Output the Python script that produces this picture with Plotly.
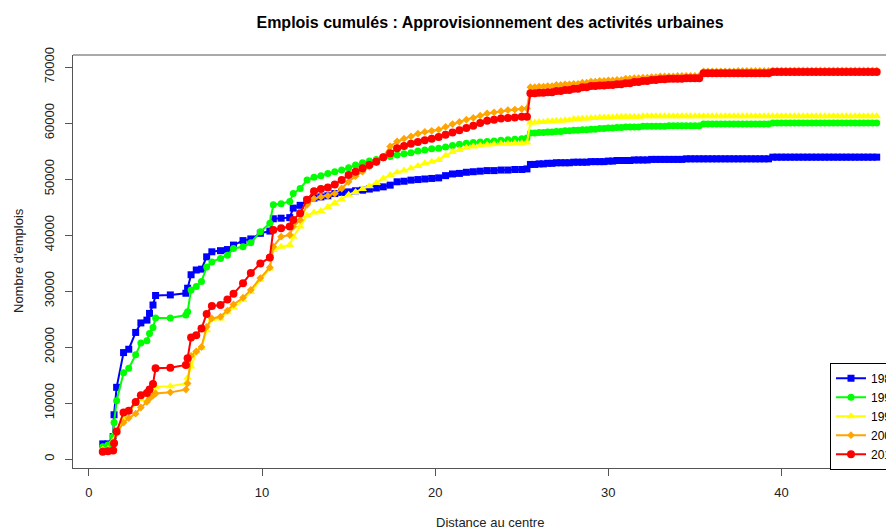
import plotly.graph_objects as go

# Distance au centre (km)
distance = [
    0.8, 1.1, 1.4, 1.45, 1.6, 2.0, 2.3, 2.7, 3.0, 3.35,
    3.5, 3.7, 3.85, 4.7, 5.6, 5.7, 5.9, 6.2, 6.5, 6.8,
    7.1, 7.6, 8.0, 8.35, 8.9, 9.35, 9.9, 10.45, 10.65, 11.1,
    11.6, 11.8,
    12.2, 12.6, 13.0, 13.4, 13.8, 14.2, 14.6, 15.0, 15.4, 15.8,
    16.2, 16.6, 17.0, 17.4, 17.8, 18.2, 18.6, 19.0, 19.4, 19.8,
    20.2, 20.6, 21.0, 21.4, 21.8, 22.2, 22.6, 23.0, 23.4, 23.8,
    24.2, 24.6, 25.0, 25.3,
    25.5, 25.75, 26.0, 26.25, 26.5, 26.75, 27.0, 27.25,
    27.5, 27.75, 28.0, 28.25, 28.5, 28.75, 29.0, 29.25,
    29.5, 29.75, 30.0, 30.25, 30.5, 30.75, 31.0, 31.25,
    31.5, 31.75, 32.0, 32.25, 32.5, 32.75, 33.0, 33.25,
    33.5, 33.75, 34.0, 34.25, 34.5, 34.75, 35.0, 35.25,
    35.5, 35.75, 36.0, 36.25, 36.5, 36.75, 37.0, 37.25,
    37.5, 37.75, 38.0, 38.25, 38.5, 38.75, 39.0, 39.25,
    39.5, 39.75, 40.0, 40.25, 40.5, 40.75, 41.0, 41.25,
    41.5, 41.75, 42.0, 42.25, 42.5, 42.75, 43.0, 43.25,
    43.5, 43.75, 44.0, 44.25, 44.5, 44.75, 45.0, 45.25,
    45.5,
]

emplois_1982 = [
    2700, 2700, 4000, 7900, 12800, 19000, 19600, 22600, 24300, 24800,
    26000, 27500, 29200, 29300, 29600, 30500, 32900, 33750, 33900, 36100,
    37000, 37200, 37400, 38200, 39000, 39300, 40300, 40700, 42900, 43000,
    43100, 44800,
    45300, 46200, 46600, 46800, 47000, 47400, 47600, 47700, 47900, 48000,
    48200, 48400, 48600, 48900, 49500, 49600, 49800, 49900, 50000, 50100,
    50200, 50600, 50900, 51000, 51200, 51300, 51400, 51500, 51500, 51600,
    51600, 51700, 51700, 51800,
    52600, 52600, 52700, 52700, 52800, 52800, 52900, 52900,
    52900, 52900, 53000, 53000, 53000, 53000, 53100, 53100,
    53100, 53100, 53200, 53200, 53300, 53300, 53300, 53300,
    53400, 53400, 53400, 53400, 53500, 53500, 53500, 53500,
    53500, 53500, 53500, 53500, 53600, 53600, 53600, 53600,
    53600, 53600, 53600, 53600, 53600, 53600, 53600, 53600,
    53600, 53600, 53600, 53600, 53600, 53600, 53600, 53600,
    53900, 53900, 53900, 53900, 53900, 53900, 53900, 53900,
    53900, 53900, 53900, 53900, 53900, 53900, 53900, 53900,
    53900, 53900, 53900, 53900, 53900, 53900, 53900, 53900,
    53900,
]

emplois_1990 = [
    2200, 2500, 4000, 6500, 10400, 15400, 16200, 18600, 20700, 21100,
    22400, 23500, 25200, 25200, 25700, 26300, 30200, 30800, 31700, 34300,
    35200, 35800, 36400, 37600, 37900, 38600, 40600, 42100, 45400, 45600,
    46000, 47400,
    48300, 49800, 50300, 50600, 51000, 51300, 51600, 52000, 52500, 52900,
    53200, 53500, 53800, 54000, 54300, 54500, 54700, 55000, 55200, 55400,
    55500, 55700, 56000, 56200, 56400, 56500, 56600, 56700, 56800, 56900,
    57000, 57100, 57200, 57300,
    58200, 58200, 58300, 58300, 58400, 58400, 58500, 58500,
    58600, 58600, 58700, 58700, 58800, 58800, 58900, 58900,
    59000, 59000, 59100, 59100, 59200, 59200, 59300, 59300,
    59300, 59300, 59400, 59400, 59400, 59400, 59400, 59400,
    59500, 59500, 59500, 59500, 59500, 59500, 59500, 59500,
    59800, 59800, 59800, 59800, 59800, 59800, 59800, 59800,
    59800, 59800, 59800, 59800, 59800, 59800, 59800, 59800,
    60000, 60000, 60000, 60000, 60000, 60000, 60000, 60000,
    60000, 60000, 60000, 60000, 60000, 60000, 60000, 60000,
    60000, 60000, 60000, 60000, 60000, 60000, 60000, 60000,
    60000,
]

emplois_1999 = [
    1700, 1800, 2000, 3400, 4800, 7300, 8400, 9800, 10700, 11500,
    12000, 12500, 12900, 13000, 13500, 14500, 16500, 19200, 19800, 23000,
    25000, 25100, 26200, 27000, 28400, 29800, 32000, 34000, 37300, 37900,
    38200, 39700,
    41500, 43500, 44000, 44300, 45000, 45700, 46400, 47200, 47700, 48200,
    48700, 49300, 50100, 50700, 51200, 51500, 51900, 52300, 52800, 53100,
    53400, 54200, 54800, 55200, 55600, 55800, 56000, 56100, 56200, 56300,
    56300, 56400, 56400, 56500,
    60100, 60100, 60200, 60200, 60300, 60300, 60400, 60400,
    60500, 60500, 60700, 60700, 60800, 60800, 60900, 60900,
    61000, 61000, 61000, 61000, 61100, 61100, 61100, 61100,
    61100, 61100, 61200, 61200, 61200, 61200, 61200, 61200,
    61200, 61200, 61200, 61200, 61200, 61200, 61200, 61200,
    61200, 61200, 61200, 61200, 61200, 61200, 61200, 61200,
    61200, 61200, 61200, 61200, 61200, 61200, 61200, 61200,
    61200, 61200, 61200, 61200, 61200, 61200, 61200, 61200,
    61200, 61200, 61200, 61200, 61200, 61200, 61200, 61200,
    61200, 61200, 61200, 61200, 61200, 61200, 61200, 61200,
    61200,
]

emplois_2006 = [
    1500, 1600, 1800, 3000, 4600, 6500, 7300, 8100, 9200, 10200,
    10800, 11300, 11700, 11900, 12400, 13500, 18400, 19200, 20000, 23600,
    25100, 25400, 26500, 27600, 28800, 30200, 32300, 34200, 37900, 39700,
    40000, 41500,
    42700, 45400, 46500, 46800, 47000, 47400, 48300, 49500, 50500, 51300,
    52200, 53000, 54000, 55800, 56700, 57200, 57600, 58100, 58400, 58600,
    58800, 59300, 59800, 60200, 60600, 60900, 61300, 61700, 61900, 62100,
    62300, 62400, 62500, 62600,
    66400, 66400, 66500, 66500, 66600, 66600, 66800, 66800,
    66900, 66900, 67000, 67000, 67200, 67200, 67400, 67400,
    67500, 67500, 67600, 67600, 67700, 67700, 67900, 67900,
    68000, 68000, 68100, 68100, 68200, 68200, 68300, 68300,
    68300, 68300, 68400, 68400, 68400, 68400, 68400, 68400,
    69200, 69200, 69200, 69200, 69200, 69200, 69200, 69200,
    69300, 69300, 69300, 69300, 69300, 69300, 69300, 69300,
    69400, 69400, 69400, 69400, 69400, 69400, 69400, 69400,
    69400, 69400, 69400, 69400, 69400, 69400, 69400, 69400,
    69400, 69400, 69400, 69400, 69400, 69400, 69400, 69400,
    69400,
]

emplois_2012 = [
    1300, 1400, 1500, 2800, 4900, 8300, 8600, 10200, 11400, 11800,
    12400, 13400, 16200, 16300, 16800, 18000, 21700, 22100, 23300, 25900,
    27300, 27500, 28500, 29500, 31400, 33200, 34900, 36000, 40900, 41200,
    41500, 42700,
    43900, 46300, 47800, 48200, 48500, 49000, 49800, 50700, 51300, 51900,
    52500, 53100, 53900, 54600, 55500, 55900, 56300, 56600, 56900, 57200,
    57500, 57900, 58300, 58700, 59100, 59500, 60000, 60400, 60600, 60800,
    60900, 61000, 61100, 61100,
    65300, 65300, 65400, 65400, 65500, 65500, 65700, 65700,
    65900, 65900, 66100, 66100, 66400, 66400, 66600, 66600,
    66700, 66700, 66800, 66800, 66900, 66900, 67100, 67100,
    67300, 67300, 67500, 67500, 67700, 67700, 67800, 67800,
    67900, 67900, 67900, 67900, 68000, 68000, 68000, 68000,
    68900, 68900, 68900, 68900, 68900, 68900, 68900, 68900,
    68900, 68900, 68900, 68900, 68900, 68900, 68900, 68900,
    69100, 69100, 69100, 69100, 69100, 69100, 69100, 69100,
    69100, 69100, 69100, 69100, 69100, 69100, 69100, 69100,
    69100, 69100, 69100, 69100, 69100, 69100, 69100, 69100,
    69100,
]

annees = ["1982", "1990", "1999", "2006", "2012"]
series = [emplois_1982, emplois_1990, emplois_1999, emplois_2006, emplois_2012]
couleurs = ["#0000FF", "#00FF00", "#FFFF00", "#FFA500", "#FF0000"]
symboles = ["square", "circle", "triangle-up", "diamond", "circle"]
tailles = [7, 7, 8, 6, 8]

x_ticks = [0, 10, 20, 30, 40]
y_ticks = [0, 10000, 20000, 30000, 40000, 50000, 60000, 70000]

for s in series:
    assert len(s) == len(distance), len(s)

FONT = "Liberation Sans, Arial, Helvetica, sans-serif"

# The page body adds an 8px offset; layout positions below are in figure pixels.
W, H = 894, 530
L, R_EDGE, T, B = 65, 886, 47, 460   # plot box edges (figure px)
PW, PH = R_EDGE - L, B - T

fig = go.Figure()
for an, vals, col, sym, sz in zip(annees, series, couleurs, symboles, tailles):
    fig.add_trace(go.Scatter(
        x=distance, y=vals, name=an, mode="lines+markers",
        line=dict(color=col, width=2),
        marker=dict(symbol=sym, size=sz, color=col, line=dict(width=0)),
    ))

fig.update_layout(
    width=W, height=H,
    template="none",
    paper_bgcolor="white", plot_bgcolor="white",
    margin=dict(l=L, r=W - R_EDGE, t=T, b=H - B, autoexpand=False),
    font=dict(family=FONT, size=13, color="#222222"),
    title=dict(
        text="<b>Emplois cumulés : Approvisionnement des activités urbaines</b>",
        x=482 / W, xanchor="center", xref="container",
        y=1 - 14 / H, yanchor="middle", yref="container",
        font=dict(family=FONT, size=16, color="#000000"),
    ),
    xaxis=dict(
        range=[-0.92, 46.5], tickvals=x_ticks, ticktext=[str(v) for v in x_ticks],
        showgrid=False, zeroline=False, showline=True, linecolor="#555555", linewidth=1,
        ticks="outside", ticklen=7, tickcolor="#555555", tickwidth=1,
        ticklabelstandoff=5, automargin=False,
        tickfont=dict(family=FONT, size=13, color="#222222"),
    ),
    yaxis=dict(
        range=[-1607, 72143], tickvals=y_ticks, ticktext=[str(v) for v in y_ticks],
        showgrid=False, zeroline=False, showline=True, linecolor="#555555", linewidth=1,
        ticks="outside", ticklen=7, tickcolor="#555555", tickwidth=1,
        tickangle=-90, ticklabelstandoff=6, automargin=False,
        tickfont=dict(family=FONT, size=13, color="#222222"),
    ),
    legend=dict(
        x=822 / W, xanchor="left", xref="container",
        y=-0.004, yanchor="bottom", yref="paper",
        bgcolor="white", bordercolor="#000000", borderwidth=1,
        font=dict(family=FONT, size=12, color="#000000"),
        tracegroupgap=0,
    ),
    showlegend=True,
)

# top border of the plot box
fig.add_shape(type="line", xref="paper", yref="paper", x0=0, x1=1, y0=1, y1=1,
              line=dict(color="#555555", width=1))

# axis titles
fig.add_annotation(text="Distance au centre", xref="paper", yref="paper",
                   x=(482 - L) / PW, y=-(514 - B) / PH, xanchor="center", yanchor="middle",
                   showarrow=False, font=dict(family=FONT, size=13, color="#222222"))
fig.add_annotation(text="Nombre d'emplois", xref="paper", yref="paper",
                   x=-(L - 10) / PW, y=(B - 253) / PH, xanchor="center", yanchor="middle",
                   textangle=-90, showarrow=False,
                   font=dict(family=FONT, size=13, color="#222222"))

fig.write_html("out.html")
